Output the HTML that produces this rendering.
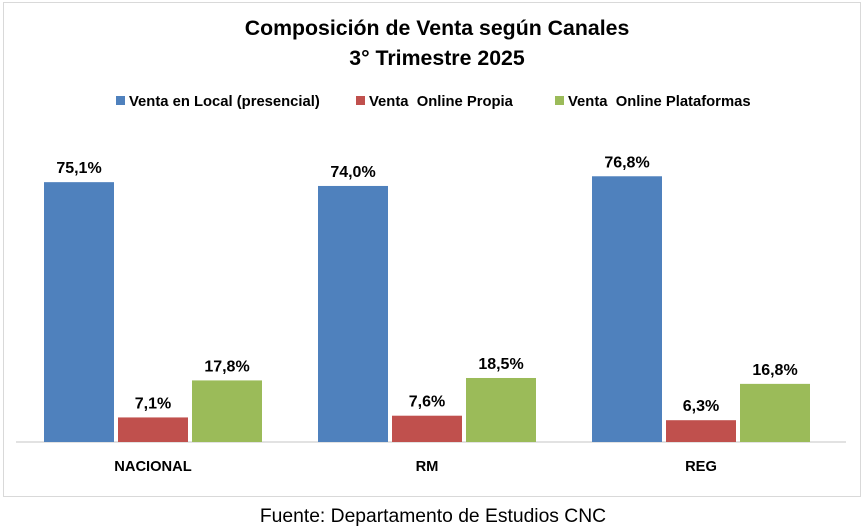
<!DOCTYPE html>
<html><head><meta charset="utf-8"><style>
body{margin:0;width:867px;height:530px;background:#fff;font-family:"Liberation Sans",sans-serif;}
#frame{position:absolute;left:3px;top:2px;width:858px;height:495px;border:1px solid #d9d9d9;box-sizing:border-box;}
svg{position:absolute;left:0;top:0;}
</style></head><body>
<div id="frame"></div>
<svg id="chart" width="867" height="530">
<text x="437" y="35" text-anchor="middle" font-size="21.3" font-weight="bold" fill="#000">Composición de Venta según Canales</text>
<text x="437" y="65" text-anchor="middle" font-size="21.3" font-weight="bold" fill="#000">3° Trimestre 2025</text>
<g id="legend"></g>
<line x1="16" x2="846" y1="442" y2="442" stroke="#d9d9d9" stroke-width="1.5"/>
<g id="bars"></g>
<text x="433" y="522" text-anchor="middle" font-size="19.3" fill="#000">Fuente: Departamento de Estudios CNC</text>
</svg>
<script>
const categories=["NACIONAL","RM","REG"];
const seriesNames=["Venta en Local (presencial)","Venta  Online Propia","Venta  Online Plataformas"];
const localVals=[75.1,74.0,76.8];
const propiaVals=[7.1,7.6,6.3];
const plataformasVals=[17.8,18.5,16.8];
const colors=["#4f81bd","#c0504d","#9bbb59"];
const series=[localVals,propiaVals,plataformasVals];
const NS="http://www.w3.org/2000/svg";
const baseY=442, pxPerUnit=3.46;
function yScale(v){return baseY-v*pxPerUnit;}
function xScale(ci,si){return 44+ci*274+si*74;}
const bars=document.getElementById('bars');
series.forEach((vals,si)=>{
  vals.forEach((v,ci)=>{
    const r=document.createElementNS(NS,'rect');
    r.setAttribute('x',xScale(ci,si));r.setAttribute('y',yScale(v));
    r.setAttribute('width',70);r.setAttribute('height',baseY-yScale(v));
    r.setAttribute('fill',colors[si]);
    
    
    bars.appendChild(r);
    const t=document.createElementNS(NS,'text');
    t.setAttribute('x',xScale(ci,si)+35);t.setAttribute('y',yScale(v)-9);
    t.setAttribute('text-anchor','middle');t.setAttribute('font-size','16');t.setAttribute('font-weight','bold');
    t.textContent=v.toFixed(1).replace('.',',')+'%';
    
    
    bars.appendChild(t);
  });
});
categories.forEach((c,ci)=>{
  const t=document.createElementNS(NS,'text');
  t.setAttribute('x',xScale(ci,1)+35);t.setAttribute('y',471);
  t.setAttribute('text-anchor','middle');t.setAttribute('font-size','14.7');t.setAttribute('font-weight','bold');
  t.textContent=c;
  
  
  bars.appendChild(t);
});
const lg=document.getElementById('legend');
const lx=[116,356,555];
seriesNames.forEach((n,i)=>{
  const r=document.createElementNS(NS,'rect');
  r.setAttribute('x',lx[i]);r.setAttribute('y',96);r.setAttribute('width',9);r.setAttribute('height',9);r.setAttribute('fill',colors[i]);
  
  
  lg.appendChild(r);
  const t=document.createElementNS(NS,'text');
  t.setAttribute('x',lx[i]+13);t.setAttribute('y',106);t.setAttribute('font-size','14.8');t.setAttribute('font-weight','bold');
  t.setAttribute('xml:space','preserve');t.style.whiteSpace='pre';
  t.textContent=n;
  
  
  lg.appendChild(t);
});
</script>
</body></html>
